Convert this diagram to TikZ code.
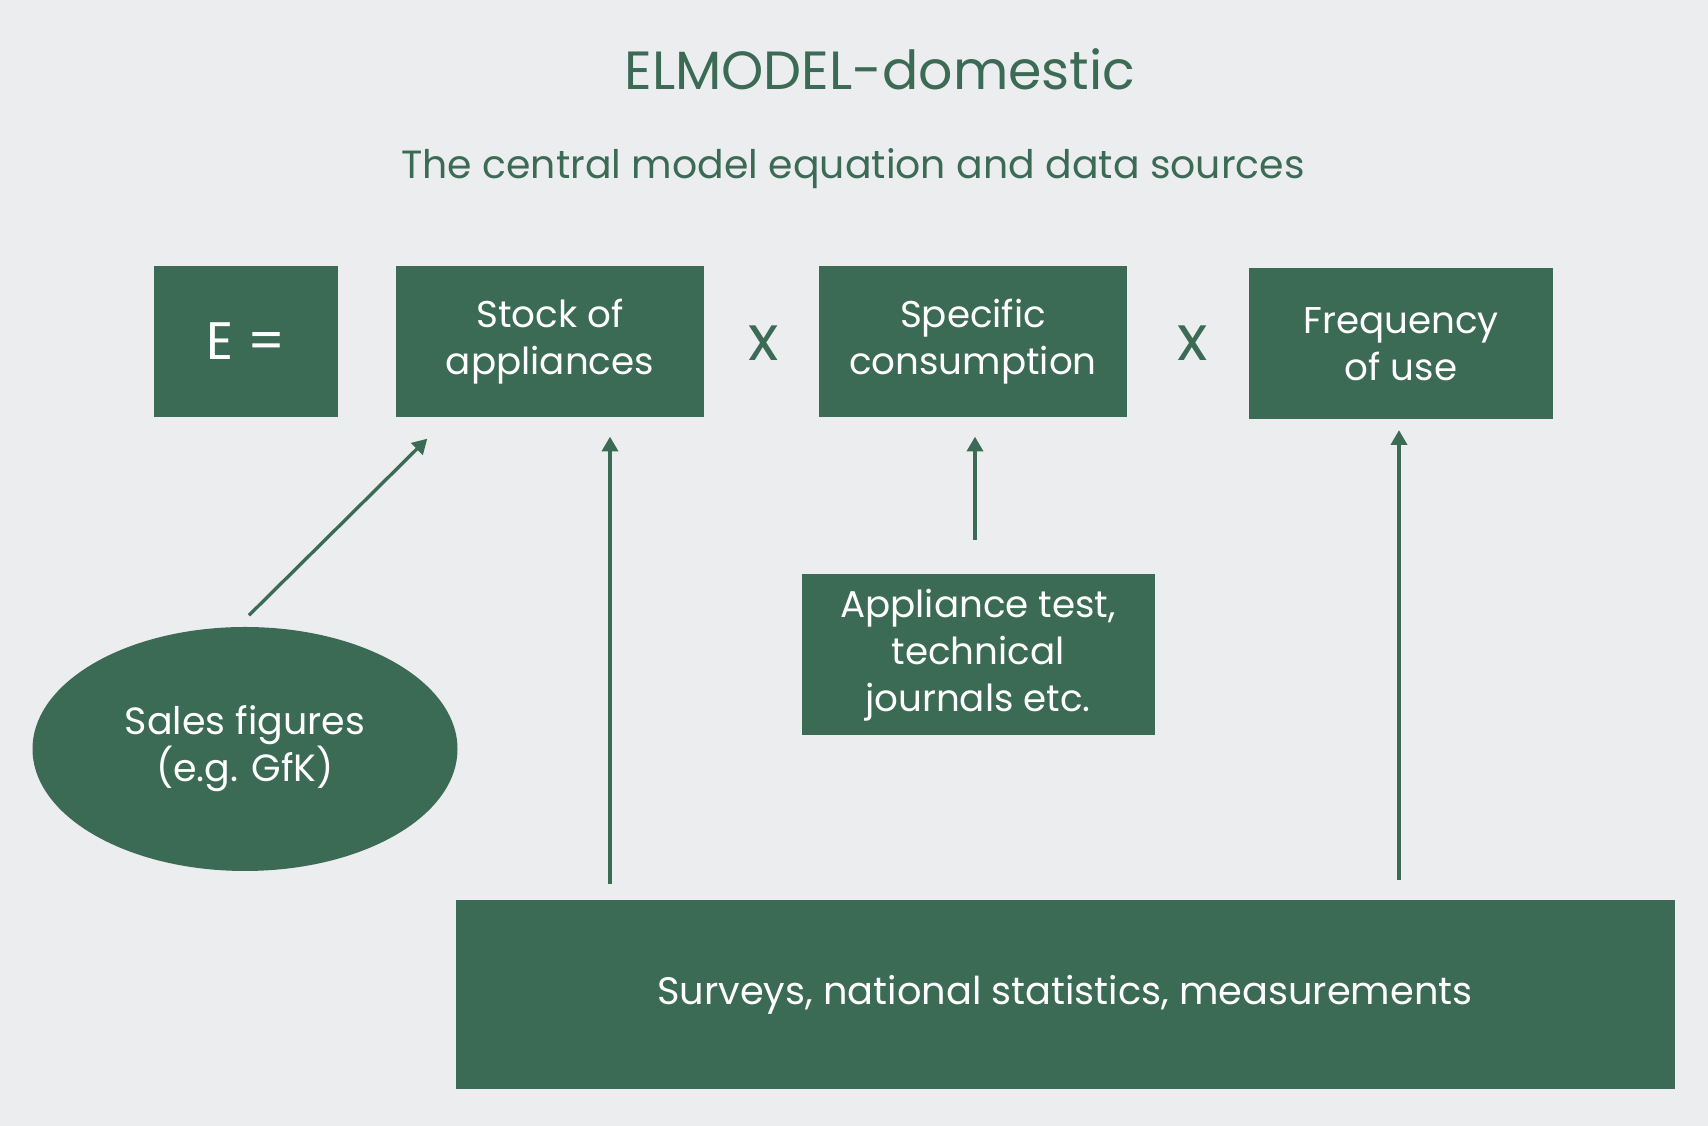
\documentclass[tikz,border=0pt]{standalone}
\usepackage{fontspec}
\setmainfont{Poppins}
\usetikzlibrary{shapes.geometric, arrows.meta, positioning, calc}
\definecolor{deepgreen}{RGB}{60, 107, 85}
\definecolor{bggray}{RGB}{236, 237, 239}
\tikzset{
  box/.style      = {rectangle, fill=deepgreen, text=white, align=center, inner sep=0pt, font=\fontsize{10.6}{13.4}\selectfont},
  ovalbox/.style  = {ellipse, fill=deepgreen, text=white, align=center, inner sep=0pt, font=\fontsize{10.8}{13.4}\selectfont},
  times/.style    = {text=deepgreen, font=\fontsize{18}{20}\selectfont},
  flow/.style     = {-{Triangle[width=4.6pt,length=4.2pt]}, line width=0.95pt, deepgreen},
}
\begin{document}
\begin{tikzpicture}
  \fill[bggray] (0,0) rectangle (17.08,11.26);
  \useasboundingbox (0,0) rectangle (17.08,11.26);

  % headings
  \node[text=deepgreen, font=\fontsize{15.3}{18}\selectfont] (title) at (8.80,10.57) {ELMODEL-domestic};
  \node[text=deepgreen, font=\fontsize{11.2}{13}\selectfont] (subtitle) at (8.53,9.57) {The central model equation and data sources};

  % equation
  \node[box, minimum width=1.84cm, minimum height=1.51cm, font=\fontsize{15}{18}\selectfont] (eq) at (2.46,7.845) {E =};
  \node[box, minimum width=3.08cm, minimum height=1.51cm] (stock) at (5.50,7.845) {Stock of\\appliances};
  \node[times] (x1) at (7.64,7.83) {x};
  \node[box, minimum width=3.08cm, minimum height=1.51cm] (spec) at (9.73,7.845) {Specific\\consumption};
  \node[times] (x2) at (11.93,7.83) {x};
  \node[box, minimum width=3.04cm, minimum height=1.51cm] (freq) at (14.01,7.82) {Frequency\\of use};

  % data sources
  \node[ovalbox, minimum width=4.25cm, minimum height=2.44cm] (sales) at (2.45,3.77) {Sales figures\\(e.g. GfK)};
  \node[box, minimum width=3.53cm, minimum height=1.61cm] (test) at (9.78,4.71) {Appliance test,\\technical\\journals etc.};
  \node[box, minimum width=12.19cm, minimum height=1.89cm, font=\fontsize{10.9}{13.4}\selectfont] (surveys) at (10.65,1.31) {Surveys, national statistics, measurements};

  \draw[flow] ([xshift=0.4mm,yshift=1.1mm]sales.north) -- ([xshift=3.2mm,yshift=-2.1mm]stock.south west);
  \draw[flow] ([xshift=6mm,yshift=1.6mm]stock.south |- surveys.north) -- ([xshift=6mm,yshift=-1.9mm]stock.south);
  \draw[flow] ([xshift=0.2mm,yshift=3.4mm]test.north -| spec.south) -- ([xshift=0.2mm,yshift=-1.9mm]spec.south);
  \draw[flow] ([xshift=-0.2mm,yshift=2mm]freq.south |- surveys.north) -- ([xshift=-0.2mm,yshift=-1mm]freq.south);
\end{tikzpicture}
\end{document}
